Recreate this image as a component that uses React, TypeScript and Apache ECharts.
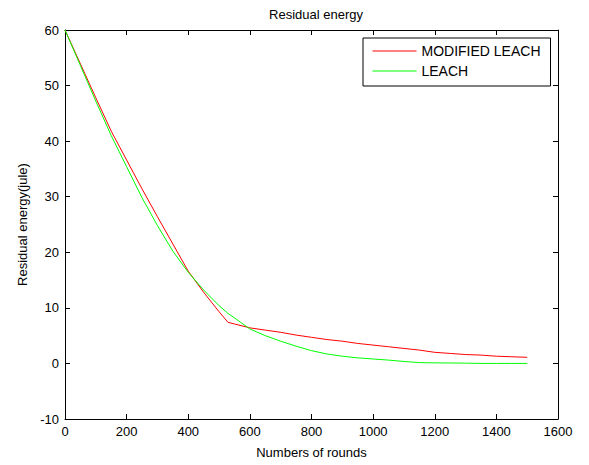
import React, { useEffect, useRef } from "react";
import * as echarts from "echarts";

const rounds = [0, 50, 100, 150, 200, 250, 300, 350, 400, 450, 500, 529, 550, 600, 650, 700, 750, 800, 850, 900, 950, 1000, 1050, 1100, 1150, 1200, 1250, 1300, 1350, 1400, 1450, 1500];
const modifiedLeach = [60, 53.9, 47.8, 41.8, 36.6, 31.4, 26.4, 21.5, 16.6, 12.8, 9.3, 7.4, 7.1, 6.4, 6.0, 5.6, 5.1, 4.7, 4.3, 4.0, 3.6, 3.3, 3.0, 2.7, 2.4, 2.0, 1.8, 1.6, 1.5, 1.3, 1.2, 1.1];
const leach = [60, 53.6, 47.2, 41.0, 35.4, 29.8, 24.8, 20.2, 16.4, 13.2, 10.4, 9.0, 8.2, 6.2, 5.0, 4.0, 3.1, 2.3, 1.7, 1.3, 1.0, 0.8, 0.6, 0.35, 0.15, 0.1, 0.08, 0.05, 0, 0, 0, 0];

const FONT = "'Liberation Sans', Arial, sans-serif";

export default function App() {
  const ref = useRef<HTMLDivElement>(null);
  useEffect(() => {
    if (!ref.current) return;
    const chart = echarts.init(ref.current, undefined, { renderer: "svg" });
    const axisCommon = {
      axisLine: { show: true, onZero: false, lineStyle: { color: "#000", width: 1 } },
      axisTick: { show: true, inside: true, length: 5, lineStyle: { color: "#000" } },
      splitLine: { show: false },
    };
    chart.setOption({
      animation: false,
      backgroundColor: "#fff",
      textStyle: { fontFamily: FONT },
      title: {
        text: "Residual energy",
        left: 311,
        top: 3,
        textAlign: "center",
        textStyle: { fontSize: 13, fontWeight: "normal", color: "#000", fontFamily: FONT },
      },
      grid: { left: 65, right: 31, top: 30, bottom: 46, containLabel: false },
      legend: {
        orient: "vertical",
        left: 363,
        top: 38,
        itemWidth: 44,
        itemHeight: 14,
        itemGap: 6,
        padding: [6, 10, 8, 9],
        borderColor: "#000",
        borderWidth: 1,
        backgroundColor: "#fff",
        itemStyle: { opacity: 0 },
        lineStyle: { width: 1 },
        textStyle: { fontSize: 14, color: "#000", fontFamily: FONT },
        data: ["MODIFIED LEACH", "LEACH"],
      },
      xAxis: [
        {
          type: "value",
          min: 0,
          max: 1600,
          interval: 200,
          name: "Numbers of rounds",
          nameLocation: "middle",
          nameGap: 27,
          nameTextStyle: { fontSize: 13, color: "#000", fontFamily: FONT },
          axisLabel: { fontSize: 13, color: "#000", margin: 6, fontFamily: FONT, formatter: (v: number) => String(v) },
          ...axisCommon,
        },
        {
          type: "value",
          position: "top",
          min: 0,
          max: 1600,
          interval: 200,
          axisLabel: { show: false },
          ...axisCommon,
        },
      ],
      yAxis: [
        {
          type: "value",
          min: -10,
          max: 60,
          interval: 10,
          name: "Residual energy(jule)",
          nameLocation: "middle",
          nameGap: 34,
          nameTextStyle: { fontSize: 13, color: "#000", fontFamily: FONT },
          axisLabel: { fontSize: 13, color: "#000", margin: 6, fontFamily: FONT },
          ...axisCommon,
        },
        {
          type: "value",
          position: "right",
          min: -10,
          max: 60,
          interval: 10,
          axisLabel: { show: false },
          ...axisCommon,
        },
      ],
      series: [
        {
          name: "MODIFIED LEACH",
          type: "line",
          symbol: "none",
          lineStyle: { color: "#ff0000", width: 1 },
          itemStyle: { color: "#ff0000" },
          data: rounds.map((r, i) => [r, modifiedLeach[i]]),
        },
        {
          name: "LEACH",
          type: "line",
          symbol: "none",
          lineStyle: { color: "#00ff00", width: 1 },
          itemStyle: { color: "#00ff00" },
          data: rounds.map((r, i) => [r, leach[i]]),
        },
      ],
    });
    return () => chart.dispose();
  }, []);
  return (
    <div
      ref={ref}
      style={{ position: "fixed", left: 0, top: 0, width: 589, height: 465 }}
    />
  );
}
